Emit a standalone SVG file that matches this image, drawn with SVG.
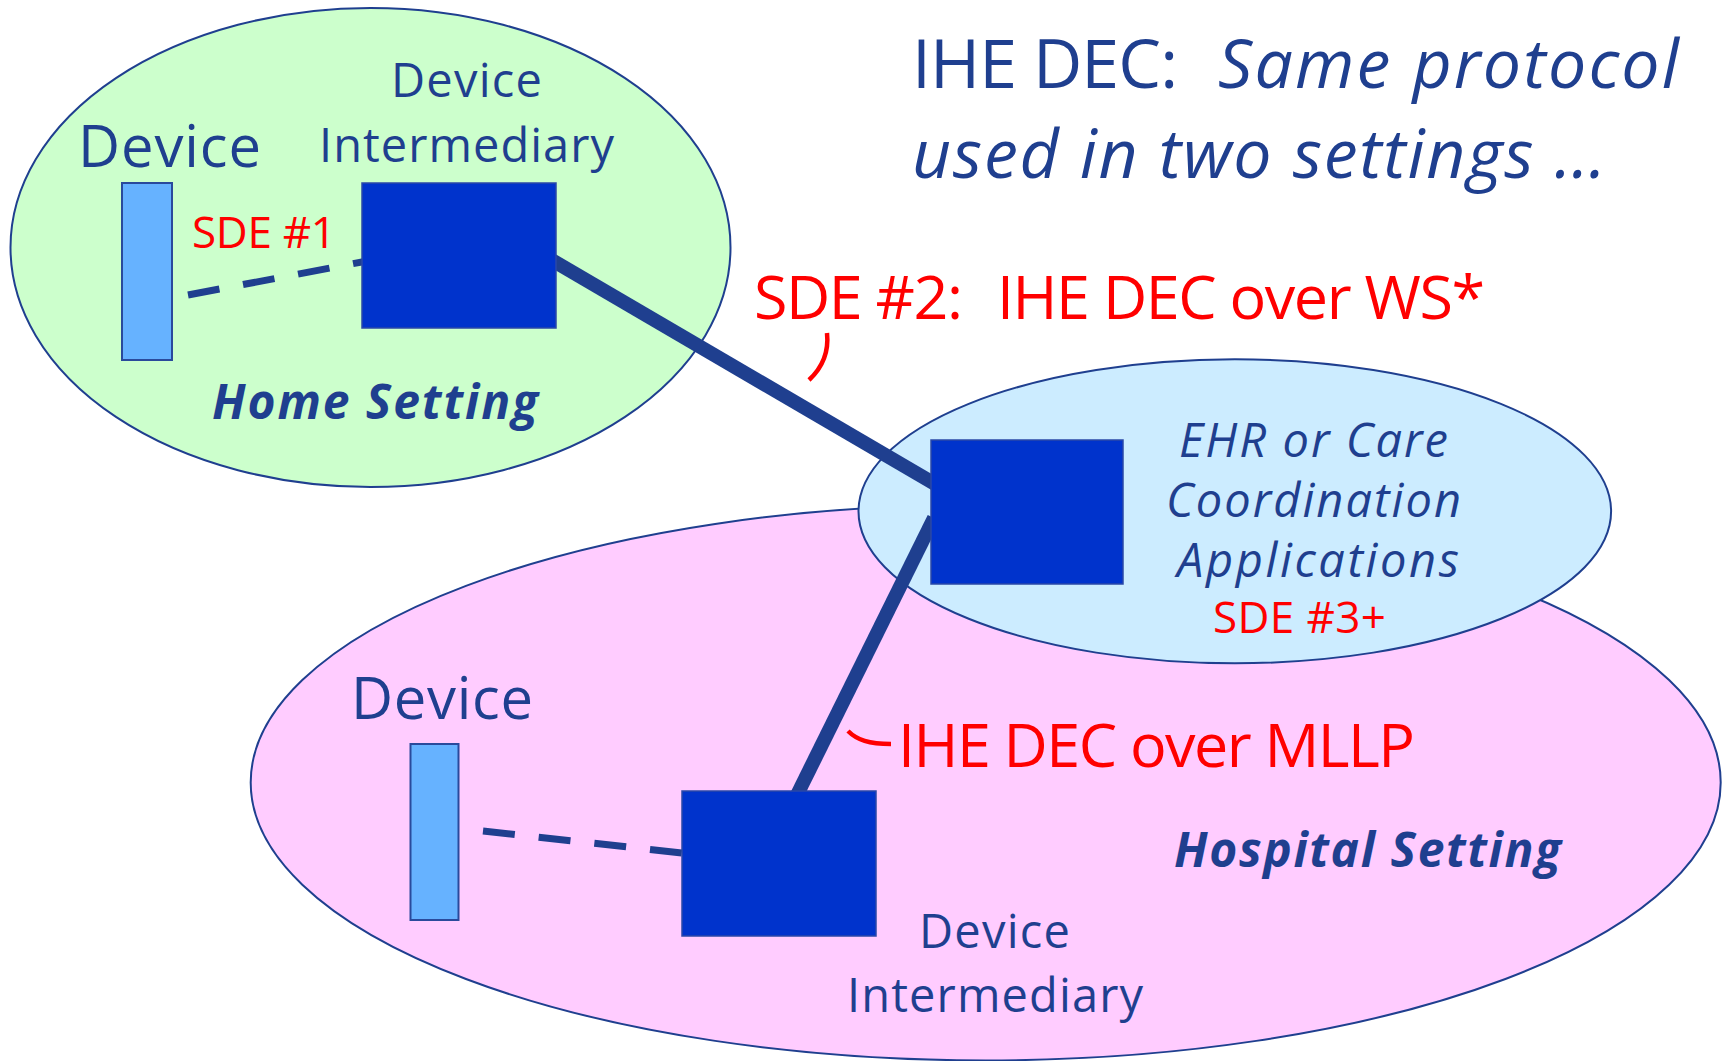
<svg xmlns="http://www.w3.org/2000/svg" width="1723" height="1061" viewBox="0 0 1723 1061">
<style>
.ell{stroke:#1F3F8F;stroke-width:2}
.dev{fill:#66B2FF;stroke:#2A4A9C;stroke-width:2}
.box{fill:#0033CC;stroke:#2A48A8;stroke-width:1.5}
.link{stroke:#1F3F8F;stroke-width:14;fill:none}
.dash{stroke:#1F3F8F;stroke-width:7;stroke-dasharray:32 24;fill:none}
.brk{stroke:#FF0000;stroke-width:4.5;fill:none;stroke-linecap:butt}
text{font-family:"Open Sans","Noto Sans","Liberation Sans",sans-serif;font-weight:500}
.b{fill:#1F3F8F}
.r{fill:#FF0000}
.i{font-style:italic}
.bi{font-style:italic;font-weight:bold}
</style>
<rect width="1723" height="1061" fill="#FFFFFF"/>
<g id="home-setting">
<ellipse class="ell" cx="370.5" cy="247.5" rx="360" ry="239.5" fill="#CCFFCC"/>
</g>
<g id="hospital-setting">
<ellipse class="ell" cx="985.7" cy="782.4" rx="735" ry="278" fill="#FFCCFF"/>
</g>
<g id="ehr-setting">
<ellipse class="ell" cx="1234.8" cy="511.3" rx="376.3" ry="152" fill="#CCECFF"/>
</g>
<g id="connectors">
<line class="dash" x1="188" y1="295" x2="366" y2="261.2"/>
<line class="dash" x1="483" y1="831" x2="690" y2="853.9"/>
<line class="link" x1="550" y1="259" x2="935" y2="484"/>
<line class="link" x1="796" y1="797" x2="934" y2="518"/>
<path class="brk" d="M827 333 C829 352 823 367 809 380"/>
<path class="brk" d="M848 731 C857 740 869 744 891 744"/>
</g>
<g id="home-device">
<rect class="dev" x="122" y="183" width="50" height="177"/>
<text class="b" x="78" y="167" font-size="58" textLength="183">Device</text>
</g>
<g id="home-intermediary">
<rect class="box" x="362" y="183" width="194" height="145"/>
<text class="b" x="391" y="97" font-size="47" textLength="151">Device</text>
<text class="b" x="319" y="162" font-size="47" textLength="295">Intermediary</text>
</g>
<g id="ehr">
<rect class="box" x="931" y="440" width="192" height="144"/>
<text class="b i" x="1179" y="457" font-size="47" textLength="269">EHR or Care</text>
<text class="b i" x="1166" y="517" font-size="47" textLength="295">Coordination</text>
<text class="b i" x="1177" y="577" font-size="47" textLength="282">Applications</text>
</g>
<g id="hospital-device">
<rect class="dev" x="410.5" y="744" width="48" height="176"/>
<text class="b" x="351" y="719" font-size="58" textLength="182">Device</text>
</g>
<g id="hospital-intermediary">
<rect class="box" x="682" y="791" width="194" height="145"/>
<text class="b" x="919" y="948" font-size="47" textLength="151">Device</text>
<text class="b" x="847" y="1012" font-size="47" textLength="296">Intermediary</text>
</g>
<g id="labels">
<text class="b" x="912" y="88" font-size="68" textLength="266">IHE DEC:</text>
<text class="b i" x="1218" y="88" font-size="68" textLength="461">Same protocol</text>
<text class="b i" x="912" y="178" font-size="68" textLength="694">used in two settings …</text>
<text class="r" x="754" y="319" font-size="61" textLength="209">SDE #2:</text>
<text class="r" x="997" y="319" font-size="61" textLength="488">IHE DEC over WS*</text>
<text class="r" x="898" y="767" font-size="61" textLength="517">IHE DEC over MLLP</text>
<text class="r" x="192" y="248" font-size="44" textLength="144">SDE #1</text>
<text class="r" x="1213" y="633" font-size="44" textLength="173">SDE #3+</text>
<text class="b bi" x="212" y="419" font-size="48" textLength="326">Home Setting</text>
<text class="b bi" x="1174" y="867" font-size="48" textLength="387">Hospital Setting</text>
</g>
</svg>
